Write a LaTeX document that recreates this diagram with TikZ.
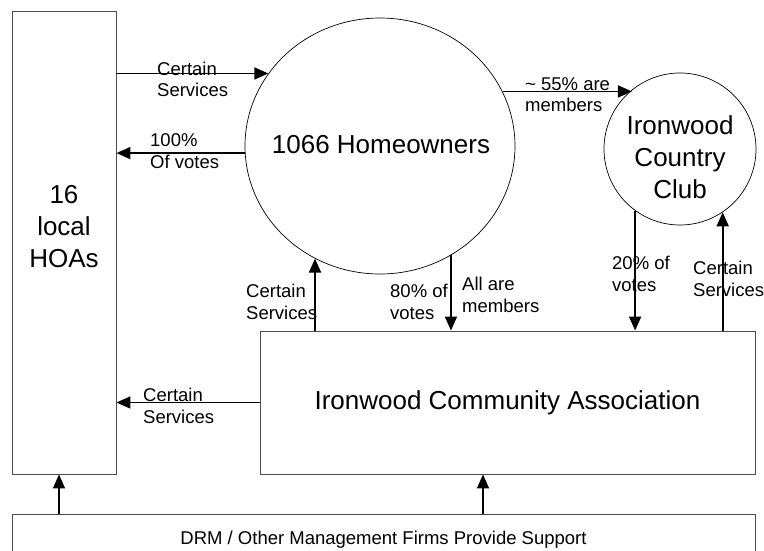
\documentclass[tikz,border=0pt]{standalone}
\usepackage{fontspec}
\setmainfont{Liberation Sans}
\usetikzlibrary{arrows.meta,shapes.geometric}
\begin{document}
\begin{tikzpicture}[x=1pt,y=-1pt]
        \tikzstyle{group}=[rectangle,draw=black!70,line width=0.9pt,inner sep=0pt]
        \tikzstyle{member}=[circle,draw=black,line width=0.7pt,inner sep=0pt]
        \tikzstyle{crowd}=[ellipse,draw=black,line width=0.7pt,inner sep=0pt]
        \tikzstyle{big}=[font=\fontsize{26}{32}\selectfont,align=center]
        \tikzstyle{note}=[font=\fontsize{18.5}{21.5}\selectfont,align=left,anchor=base west,inner sep=0pt]
        \tikzstyle{flow}=[line width=1.7pt,-{Triangle[length=14pt,width=12pt]}]
        \useasboundingbox (0,0) rectangle (764,551);
       \begin{scope}
         \node [group,minimum width=104pt,minimum height=463pt] (hoa) at (64,242.5) {};
         \node [big] (hoatext) at (64,227) {16\\local\\HOAs};
         \node [crowd,minimum width=270pt,minimum height=256pt] (hown) at (380,146) {};
         \node [big] (howntext) at (381,145) {1066 Homeowners};
         \node [member,minimum size=152pt] (cc) at (680,149) {};
         \node [big] (cctext) at (680,157) {Ironwood\\Country\\Club};
         \node [group,big,minimum width=495pt,minimum height=143pt] (ica) at (507.5,402.5) {Ironwood Community Association};
         \node [group,font=\fontsize{18.5}{21.5}\selectfont,minimum width=743pt,minimum height=51pt] (drm) at (383.5,539.5) {DRM / Other Management Firms Provide Support};
         \coordinate (hoafoot) at ([xshift=-5pt]hoa.south);
         \coordinate (icafoot) at ([xshift=-24.5pt]ica.south);
         \draw[flow] (hoa.east |- hown.147.7) -- (hown.147.7);
         \draw[flow] (hown.183.4) -- (hoa.east |- hown.183.4);
         \draw[flow] (hown.24.8) -- (hown.24.8 -| cc.129);
         \draw[flow] (ica.north -| hown.240.4) -- (hown.240.4);
         \draw[flow] (hown.303.6) -- (hown.303.6 |- ica.north);
         \draw[flow] (cc.234) -- (cc.234 |- ica.north);
         \draw[flow] (ica.north -| cc.304) -- (cc.304);
         \draw[flow] (ica.west) -- (hoa.east |- ica.west);
         \draw[flow] (drm.north -| hoafoot) -- (hoafoot);
         \draw[flow] (drm.north -| icafoot) -- (icafoot);
         \node [note] (svchown) at (157,97) {Certain\\Services};
         \node [note] (votehoa) at (150,168) {100\%\\Of votes};
         \node [note] (ccmembers) at (525,112) {\textasciitilde{} 55\% are\\members};
         \node [note] (svcica) at (246,319) {Certain\\Services};
         \node [note] (voteica) at (390,319) {80\% of\\votes};
         \node [note] (allmembers) at (462,312) {All are\\members};
         \node [note] (voteclub) at (612,291) {20\% of\\votes};
         \node [note] (svcclub) at (693,296) {Certain\\Services};
         \node [note] (svchoa) at (143,423) {Certain\\Services};
        \end{scope}
      \end{tikzpicture}
\end{document}
